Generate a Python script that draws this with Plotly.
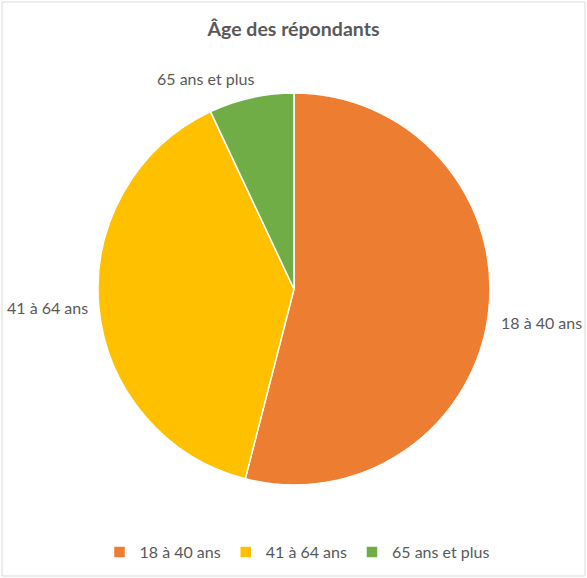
import plotly.graph_objects as go

# Age distribution of respondents (share, %)
categories = ["18 à 40 ans", "41 à 64 ans", "65 ans et plus"]
shares = [54, 39, 7]
colors = ["#ED7D31", "#FFC000", "#70AD47"]

W, H = 587, 578
cx, cy, r = 294, 289, 196

fig = go.Figure(
    go.Pie(
        labels=categories,
        values=shares,
        sort=False,
        direction="clockwise",
        rotation=0,
        marker=dict(colors=colors, line=dict(color="white", width=1.5)),
        textinfo="none",
        hoverinfo="label+percent",
        domain=dict(x=[(cx - r) / W, (cx + r) / W], y=[1 - (cy + r) / H, 1 - (cy - r) / H]),
    )
)

font_family = "Lato, Open Sans, sans-serif"
label_color = "#595959"

# Category labels placed outside their slices
label_pos = {
    "18 à 40 ans": (541, 322),
    "41 à 64 ans": (47, 308),
    "65 ans et plus": (205, 78),
}
for name, (x, y) in label_pos.items():
    fig.add_annotation(
        x=x / W, y=1 - y / H, xref="paper", yref="paper",
        text=name, showarrow=False, xanchor="center", yanchor="middle",
        font=dict(family=font_family, size=16, color=label_color),
    )

fig.update_layout(
    width=W,
    height=H,
    margin=dict(l=0, r=0, t=0, b=0),
    paper_bgcolor="white",
    plot_bgcolor="white",
    title=dict(
        text="<b>Âge des répondants</b>",
        x=0.5, xanchor="center", y=1 - 29 / H, yanchor="middle",
        font=dict(family=font_family, size=19.5, color=label_color),
    ),
    showlegend=True,
    legend=dict(
        orientation="h",
        x=297 / W, xanchor="center",
        y=1 - 552 / H, yanchor="middle",
        font=dict(family=font_family, size=16, color=label_color),
        itemwidth=30,
        traceorder="normal",
    ),
    shapes=[
        dict(type="rect", xref="paper", yref="paper",
             x0=2 / W, x1=1 - 2 / W, y0=2 / H, y1=1 - 2 / H,
             line=dict(color="#D9D9D9", width=1), fillcolor="rgba(0,0,0,0)")
    ],
)

fig.write_html("out.html")
